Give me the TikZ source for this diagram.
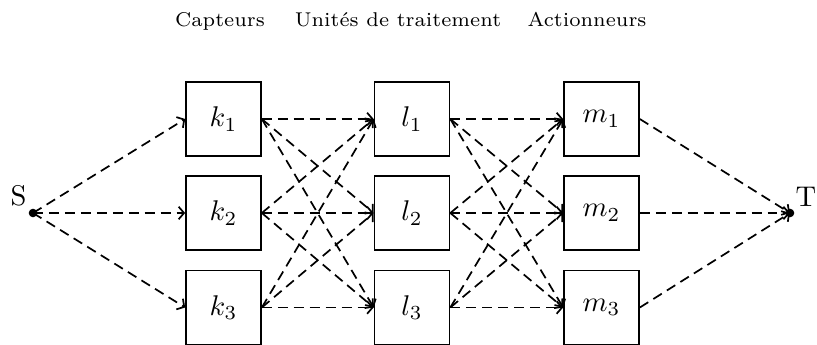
\documentclass[tikz,border=0pt]{standalone}
\usetikzlibrary{arrows.meta}
\begin{document}
\begin{tikzpicture}[x=0.3509pt,y=-0.3509pt,line width=0.6pt,
  unit/.style={draw,rectangle,inner sep=0pt,minimum width=26.3pt,minimum height=26pt},
  flow/.style={-{Straight Barb[length=1.9pt,width=4.4pt]},dash pattern=on 3.5pt off 2.1pt},
  endpt/.style={circle,fill,inner sep=0pt,minimum size=3pt},
  head/.style={font=\scriptsize,anchor=base}]
\useasboundingbox (0,0) rectangle (817,345);
\node[head] (hc) at (220,27) {Capteurs};
\node[head] (hu) at (398,27) {Unités de traitement};
\node[head] (ha) at (587,27) {Actionneurs};
\node[endpt] (S) at (33,213) {};
\node[endpt] (T) at (790,213) {};
\node (Sl) at (18.5,196) {S};
\node[anchor=east,inner sep=0pt] (Tl) at (817,197) {T};
\foreach \i/\y in {1/119,2/213,3/307.5}{
  \node[unit] (k\i) at (223.5,\y) {$k_\i$};
  \node[unit] (l\i) at (412,\y) {$l_\i$};
  \node[unit] (m\i) at (601.5,\y) {$m_\i$};
}
\foreach \i in {1,2,3}{
  \draw[flow] (S.center) -- (k\i.west);
  \draw[flow] (m\i.east) -- (T.center);
  \foreach \j in {1,2,3}{
    \draw[flow] (k\i.east) -- (l\j.west);
    \draw[flow] (l\i.east) -- (m\j.west);
  }
}
\end{tikzpicture}
\end{document}
